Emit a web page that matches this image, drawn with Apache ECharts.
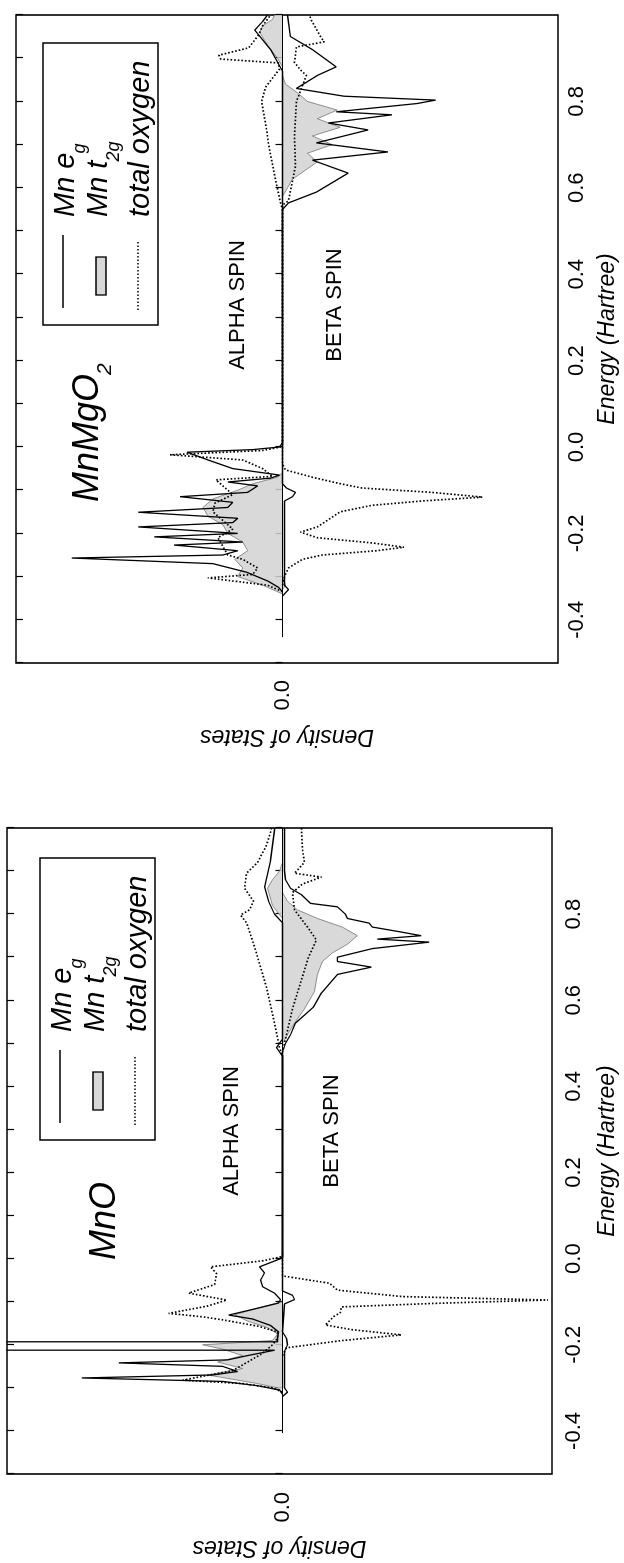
<!DOCTYPE html>
<html>
<head>
<meta charset="utf-8">
<script src="https://cdn.jsdelivr.net/npm/echarts@6.0.0/dist/echarts.min.js"></script>
<style>
html,body{margin:0;padding:0;width:624px;height:1563px;overflow:hidden;background:#fff;}
#chart{position:absolute;left:0;top:0;width:1563px;height:624px;transform-origin:0 0;transform:translate(0,1563px) rotate(-90deg);}
</style>
</head>
<body>
<div id="chart"></div>
<script>
// ---------- data: [energy (Hartree), density of states (alpha > 0, beta < 0)] ----------
var ENERGY_LABELS = [-0.4, -0.2, 0.0, 0.2, 0.4, 0.6, 0.8];
var PANEL_TITLES = ['MnMgO', 'MnO'];

// MnMgO2 panel
var mgEgAlpha = [[-0.335,0],[-0.325,0.4],[-0.31,1.5],[-0.29,3.6],[-0.27,7.0],[-0.257,21.2],[-0.25,6.0],[-0.24,4.5],[-0.227,10.9],[-0.22,4.0],[-0.208,12.9],[-0.2,4.5],[-0.185,14.5],[-0.175,5.0],[-0.165,4.5],[-0.151,14.5],[-0.14,5.5],[-0.128,5.0],[-0.115,10.3],[-0.105,3.5],[-0.09,2.5],[-0.081,5.5],[-0.072,1.2],[-0.065,0.3],[-0.05,5.0],[-0.03,7.5],[-0.012,9.6],[-0.006,3.0],[0.0,0.3],[0.01,0],[0.87,0],[0.92,1.2],[0.965,2.8],[0.985,2.0],[1.0,1.5]];
var mgEgBeta = [[-0.345,0],[-0.33,-0.6],[-0.32,-0.2],[-0.2,-0.2],[-0.125,-0.2],[-0.115,-1.0],[-0.105,-1.3],[-0.095,-0.4],[-0.085,0],[0.55,0],[0.565,-0.6],[0.59,-3.4],[0.634,-6.6],[0.664,-3.0],[0.683,-10.6],[0.704,-3.4],[0.734,-8.6],[0.75,-4.6],[0.769,-11.0],[0.776,-5.4],[0.795,-13.5],[0.803,-15.4],[0.812,-6.2],[0.83,-1.4],[0.86,-3.5],[0.88,-5.4],[0.92,-3.0],[0.95,-0.8],[1.0,-0.5]];
var mgT2gAlpha = [[-0.34,0],[-0.32,2.0],[-0.3,4.5],[-0.28,4.0],[-0.26,4.8],[-0.24,3.5],[-0.22,4.0],[-0.2,5.5],[-0.18,6.0],[-0.16,7.5],[-0.14,8.0],[-0.12,7.0],[-0.1,4.5],[-0.085,3.0],[-0.07,0.5],[-0.06,0],[0.88,0],[0.9,0.5],[0.93,1.5],[0.96,2.3],[0.975,2.0],[0.99,1.0],[1.0,0.8]];
var mgT2gBeta = [[-0.33,0],[-0.32,-0.3],[-0.3,0],[0.58,0],[0.62,-1.0],[0.66,-3.5],[0.68,-2.5],[0.7,-5.0],[0.72,-3.0],[0.74,-5.8],[0.76,-3.5],[0.78,-5.5],[0.8,-2.5],[0.82,-1.5],[0.84,-0.3],[0.86,0]];
var mgOxAlpha = [[-0.335,0],[-0.32,1.5],[-0.303,7.5],[-0.295,3.0],[-0.28,2.5],[-0.26,4.0],[-0.25,5.5],[-0.23,6.0],[-0.21,6.5],[-0.19,5.0],[-0.17,6.0],[-0.15,7.0],[-0.13,6.8],[-0.11,5.0],[-0.09,6.0],[-0.076,6.7],[-0.068,1.0],[-0.05,2.0],[-0.03,4.0],[-0.018,11.3],[-0.008,2.0],[0.0,0.2],[0.01,0],[0.55,0],[0.565,0.2],[0.618,0.7],[0.7,1.4],[0.734,1.6],[0.8,2.1],[0.833,1.7],[0.875,0.3],[0.889,0.4],[0.898,6.2],[0.907,6.4],[0.924,3.4],[0.954,2.4],[0.975,2.0],[1.0,1.2]];
var mgOxBeta = [[-0.32,0],[-0.3,-0.2],[-0.28,-0.6],[-0.26,-2.0],[-0.25,-4.0],[-0.24,-9.5],[-0.232,-12.2],[-0.222,-9.0],[-0.21,-3.5],[-0.197,-1.8],[-0.185,-3.5],[-0.17,-4.5],[-0.15,-5.8],[-0.135,-9.0],[-0.125,-14.0],[-0.116,-20.1],[-0.105,-15.0],[-0.095,-8.0],[-0.085,-5.8],[-0.07,-3.0],[-0.053,-0.3],[-0.04,0],[0.56,0],[0.57,-0.6],[0.65,-1.3],[0.72,-1.2],[0.8,-1.4],[0.86,-2.4],[0.873,-1.8],[0.89,-1.2],[0.926,-1.4],[0.938,-4.2],[0.947,-3.9],[0.988,-2.9],[1.0,-2.7]];
var mgBase = [[-0.44,0],[1.0,0]];

// MnO panel
var moEgAlpha = [[-0.315,0],[-0.305,0.3],[-0.295,2.5],[-0.285,6.0],[-0.277,20.1],[-0.27,7.0],[-0.262,4.5],[-0.25,6.0],[-0.242,16.4],[-0.235,5.5],[-0.225,3.5],[-0.2125,0.8],[-0.2118,400],[-0.1932,400],[-0.193,0.5],[-0.185,0.5],[-0.17,0.4],[-0.155,1.2],[-0.14,3.0],[-0.131,5.4],[-0.115,2.5],[-0.103,0.4],[-0.095,0.2],[-0.08,0.8],[-0.065,2.0],[-0.05,2.2],[-0.033,1.8],[-0.019,2.3],[0.0,0.2],[0.005,0],[0.47,0],[0.49,0.6],[0.51,0],[0.78,0],[0.8,0.8],[0.83,1.4],[0.863,1.8],[0.925,1.2],[0.995,0.8],[1.0,0.8]];
var moEgBeta = [[-0.32,0],[-0.31,-0.5],[-0.3,-0.2],[-0.215,-0.2],[-0.2,-0.5],[-0.185,-0.4],[-0.17,0],[-0.105,-0.2],[-0.095,-1.2],[-0.085,-1.0],[-0.075,0],[0.48,0],[0.5,-0.3],[0.52,-0.8],[0.547,-1.3],[0.584,-3.1],[0.617,-3.9],[0.66,-5.5],[0.677,-8.9],[0.69,-5.5],[0.7,-5.5],[0.72,-9.0],[0.735,-14.7],[0.742,-9.5],[0.75,-13.9],[0.76,-11.5],[0.77,-9.0],[0.779,-8.7],[0.79,-6.5],[0.8,-6.3],[0.817,-5.5],[0.825,-2.8],[0.845,-1.9],[0.86,-0.8],[0.88,-0.3],[0.9,-0.2],[1.0,-0.2]];
var moT2gAlpha = [[-0.31,0],[-0.3,0.5],[-0.29,2.5],[-0.28,5.0],[-0.27,7.5],[-0.255,4.0],[-0.24,6.5],[-0.225,4.0],[-0.21,6.0],[-0.2,8.0],[-0.19,1.0],[-0.175,0.5],[-0.16,1.5],[-0.145,3.5],[-0.13,4.8],[-0.115,2.5],[-0.1,0],[0.79,0],[0.82,1.0],[0.86,1.5],[0.88,1.0],[0.9,0.3],[0.92,0]];
var moT2gBeta = [[0.5,0],[0.54,-1.0],[0.58,-2.2],[0.62,-3.2],[0.66,-3.5],[0.69,-4.0],[0.71,-5.0],[0.73,-6.5],[0.75,-7.5],[0.77,-6.0],[0.79,-3.5],[0.81,-1.5],[0.83,-0.5],[0.85,0]];
var moOxAlpha = [[-0.31,0],[-0.3,1.0],[-0.29,4.0],[-0.282,10.0],[-0.26,5.0],[-0.24,3.5],[-0.22,2.0],[-0.2,1.0],[-0.185,0.5],[-0.17,0.5],[-0.157,2.4],[-0.142,6.0],[-0.135,8.0],[-0.127,11.4],[-0.11,7.5],[-0.096,5.6],[-0.08,9.4],[-0.06,6.8],[-0.035,6.6],[-0.019,7.2],[-0.005,2.0],[0.005,0],[0.47,0],[0.49,0.3],[0.547,0.8],[0.63,1.6],[0.724,2.8],[0.78,3.6],[0.798,4.2],[0.81,3.3],[0.83,2.9],[0.86,3.8],[0.895,3.6],[0.92,2.5],[0.96,1.6],[0.99,1.2],[1.0,1.1]];
var moOxBeta = [[-0.225,0],[-0.207,-0.4],[-0.19,-6.0],[-0.177,-11.9],[-0.165,-7.0],[-0.154,-4.3],[-0.135,-5.1],[-0.125,-5.8],[-0.112,-5.9],[-0.104,-15.0],[-0.096,-26.6],[-0.088,-12.0],[-0.073,-5.5],[-0.057,-4.7],[-0.04,0],[0.48,0],[0.52,-0.4],[0.58,-1.0],[0.64,-1.8],[0.7,-2.6],[0.74,-3.4],[0.77,-2.5],[0.81,-1.2],[0.85,-1.0],[0.87,-2.0],[0.886,-3.9],[0.895,-1.2],[0.92,-2.2],[0.95,-2.0],[1.0,-1.9]];
var moBase = [[-0.405,0],[1.0,0]];

// ---------- layout (chart is drawn landscape, then the page rotates it -90deg) ----------
var FONT = '"Liberation Sans", Arial, Helvetica, sans-serif';
var GRIDS = [
  {left: 900, top: 16, width: 648, height: 545, ymin: -27.7, ymax: 26.8, lblMargin: 8, nameGap: 38, yMargin: 17},
  {left: 89, top: 7, width: 646, height: 546, ymin: -27.0, ymax: 27.6, lblMargin: 11, nameGap: 44, yMargin: 18}
];

var mctx = document.createElement('canvas').getContext('2d');
function measure(s, fs, italic) {
  mctx.font = (italic ? 'italic ' : '') + fs + 'px "Liberation Sans"';
  return mctx.measureText(s).width;
}
function txt(x, baseline, s, fs, italic, align) {
  return {type: 'text', x: x, y: baseline - 0.3465 * fs, z: 30,
    style: {text: s, fontSize: fs, fontFamily: FONT, fontStyle: italic ? 'italic' : 'normal',
      fill: '#000', align: align || 'left', verticalAlign: 'middle'}};
}
function txtSub(x, baseline, main, sub, fs, sfs, drop) {
  var w = measure(main, fs, true);
  var out = [txt(x, baseline, main, fs, true)];
  if (sub) out.push(txt(x + w - 1, baseline + drop, sub, sfs, true));
  return out;
}
function legendBox(bx, by) {
  var g = [];
  g.push({type: 'rect', z: 25, shape: {x: bx, y: by, width: 282, height: 115},
    style: {fill: '#fff', stroke: '#000', lineWidth: 1.5}});
  g.push({type: 'line', z: 26, shape: {x1: bx + 17, y1: by + 20, x2: bx + 90, y2: by + 20},
    style: {stroke: '#000', lineWidth: 1.4}});
  g.push({type: 'rect', z: 26, shape: {x: bx + 30, y: by + 53, width: 38, height: 10},
    style: {fill: '#d8d8d8', stroke: '#000', lineWidth: 1.3}});
  g.push({type: 'line', z: 26, shape: {x1: bx + 15, y1: by + 95, x2: bx + 85, y2: by + 95},
    style: {stroke: '#000', lineWidth: 1.5, lineDash: [1.5, 2]}});
  g = g.concat(txtSub(bx + 108, by + 33, 'Mn e', 'g', 29, 18, 10));
  g = g.concat(txtSub(bx + 108, by + 66, 'Mn t', '2g', 29, 18, 11));
  g = g.concat(txtSub(bx + 108, by + 108, 'total oxygen', '', 29, 18, 0));
  return g;
}

function fmtEnergy(v) {
  var k = Math.round(v * 10);
  for (var i = 0; i < ENERGY_LABELS.length; i++) {
    if (Math.round(ENERGY_LABELS[i] * 10) === k) return (k / 10).toFixed(1);
  }
  return '';
}

var grids = [], xAxes = [], yAxes = [], series = [];
GRIDS.forEach(function (G, i) {
  grids.push({left: G.left, top: G.top, width: G.width, height: G.height, show: true,
    borderColor: '#000', borderWidth: 1.6, backgroundColor: 'rgba(0,0,0,0)'});
  ['bottom', 'top'].forEach(function (pos) {
    var main = pos === 'bottom';
    xAxes.push({type: 'value', gridIndex: i, position: pos, min: -0.5, max: 1.0, interval: 0.1,
      axisLine: {show: false}, splitLine: {show: false},
      axisTick: {show: true, inside: true, length: 7, lineStyle: {color: '#000', width: 1.2}},
      axisLabel: {show: main, margin: G.lblMargin, color: '#000', fontSize: 22, fontFamily: FONT, formatter: fmtEnergy},
      name: main ? 'Energy (Hartree)' : '', nameLocation: 'middle', nameGap: G.nameGap,
      nameTextStyle: {fontStyle: 'italic', fontSize: 23, fontFamily: FONT, color: '#000'}});
  });
  yAxes.push({type: 'value', gridIndex: i, min: G.ymin, max: G.ymax,
    axisLine: {show: false}, splitLine: {show: false},
    axisTick: {show: true, inside: true, length: 7, customValues: [0], lineStyle: {color: '#000', width: 1.2}},
    axisLabel: {show: true, customValues: [0], margin: G.yMargin, color: '#000', fontSize: 22, fontFamily: FONT,
      formatter: function (v) { return Math.abs(v) < 1e-9 ? '0.0' : ''; }},
    name: 'Density of States', nameLocation: 'middle', nameGap: 62,
    nameTextStyle: {fontStyle: 'italic', fontSize: 23, fontFamily: FONT, color: '#000'}});
});

function addSeries(name, data, gi, kind) {
  var s = {name: name, type: 'line', data: data, xAxisIndex: gi * 2, yAxisIndex: gi,
    symbol: 'none', showSymbol: false, silent: true, animation: false, clip: true};
  if (kind === 'eg') { s.lineStyle = {color: '#000', width: 1.3}; s.z = 4; }
  if (kind === 't2g') { s.lineStyle = {color: '#666', width: 0.7}; s.areaStyle = {color: '#d2d2d2', opacity: 0.85}; s.z = 2; }
  if (kind === 'ox') { s.lineStyle = {color: '#000', width: 1.7, type: [1.6, 2]}; s.z = 5; }
  if (kind === 'base') { s.lineStyle = {color: '#000', width: 1.2}; s.z = 3; }
  series.push(s);
}
addSeries('MnMgO2 t2g alpha', mgT2gAlpha, 0, 't2g');
addSeries('MnMgO2 t2g beta', mgT2gBeta, 0, 't2g');
addSeries('MnMgO2 baseline', mgBase, 0, 'base');
addSeries('MnMgO2 eg alpha', mgEgAlpha, 0, 'eg');
addSeries('MnMgO2 eg beta', mgEgBeta, 0, 'eg');
addSeries('MnMgO2 oxygen alpha', mgOxAlpha, 0, 'ox');
addSeries('MnMgO2 oxygen beta', mgOxBeta, 0, 'ox');
addSeries('MnO t2g alpha', moT2gAlpha, 1, 't2g');
addSeries('MnO t2g beta', moT2gBeta, 1, 't2g');
addSeries('MnO baseline', moBase, 1, 'base');
addSeries('MnO eg alpha', moEgAlpha, 1, 'eg');
addSeries('MnO eg beta', moEgBeta, 1, 'eg');
addSeries('MnO oxygen alpha', moOxAlpha, 1, 'ox');
addSeries('MnO oxygen beta', moOxBeta, 1, 'ox');

var graphic = [];
graphic = graphic.concat(legendBox(1238, 43));
graphic = graphic.concat(legendBox(423, 40));
graphic = graphic.concat(txtSub(1061, 100, PANEL_TITLES[0], '2', 36, 21, 12));
graphic = graphic.concat(txtSub(303, 117, PANEL_TITLES[1], '', 36, 21, 12));
graphic.push(txt(1258, 238 + 0.3465 * 22, 'ALPHA SPIN', 22, false, 'center'));
graphic.push(txt(1258, 335 + 0.3465 * 22, 'BETA SPIN', 22, false, 'center'));
graphic.push(txt(432, 232 + 0.3465 * 22, 'ALPHA SPIN', 22, false, 'center'));
graphic.push(txt(432, 332 + 0.3465 * 22, 'BETA SPIN', 22, false, 'center'));

var chart = echarts.init(document.getElementById('chart'), null, {renderer: 'canvas', devicePixelRatio: 1});
chart.setOption({
  animation: false,
  backgroundColor: '#fff',
  grid: grids,
  xAxis: xAxes,
  yAxis: yAxes,
  series: series,
  graphic: graphic
});
</script>
</body>
</html>
